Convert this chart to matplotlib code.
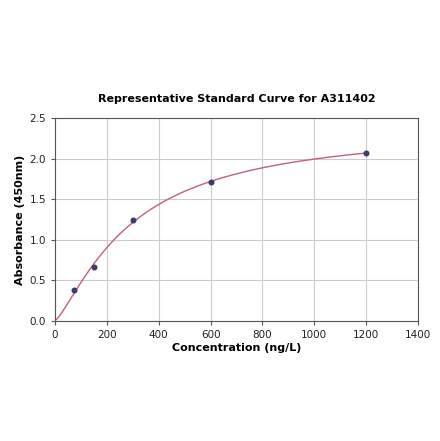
import numpy as np
import matplotlib
matplotlib.use("Agg")
import matplotlib.pyplot as plt

conc = np.array([75, 150, 300, 600, 1200], dtype=float)
absorb = np.array([0.38, 0.665, 1.24, 1.715, 2.07])
title = "Representative Standard Curve for A311402"
xlabel = "Concentration (ng/L)"
ylabel = "Absorbance (450nm)"

def f4(x, p):
    a, b, c, d = p
    return d + (a - d) / (1.0 + (np.maximum(x, 0) / c) ** b)

# simple damped Gauss-Newton fit of a 4PL model (with origin anchored)
xs = np.concatenate([[0.0], conc])
ys = np.concatenate([[0.0], absorb])
p = np.array([0.0, 1.3, 400.0, 2.5])
lam = 1e-2
for _ in range(500):
    r = ys - f4(xs, p)
    J = np.zeros((len(xs), 4))
    for i in range(4):
        dp = np.zeros(4); dp[i] = 1e-6 * max(abs(p[i]), 1e-3)
        J[:, i] = (f4(xs, p + dp) - f4(xs, p)) / dp[i]
    A = J.T @ J + lam * np.diag(np.diag(J.T @ J) + 1e-9)
    step = np.linalg.solve(A, J.T @ r)
    pn = p + step
    if pn[2] > 0 and np.sum((ys - f4(xs, pn)) ** 2) < np.sum(r ** 2):
        p = pn; lam *= 0.5
    else:
        lam *= 4

xc = np.linspace(0, 1200, 400)
yc = f4(xc, p)

fig = plt.figure(figsize=(4.4, 4.41), dpi=100)
ax = fig.add_axes([0.125, 0.272, 0.825, 0.46])
ax.plot(xc, yc, color="#c0607f", lw=1.0, zorder=2)
ax.scatter(conc, absorb, s=11, color="#383d6b", zorder=3)
ax.set_xlim(0, 1400)
ax.set_ylim(0, 2.5)
ax.set_xticks(np.arange(0, 1401, 200))
ax.set_yticks(np.arange(0, 2.51, 0.5))
ax.grid(True, color="#cccccc", lw=0.8)
ax.set_axisbelow(True)
ax.tick_params(labelsize=7.5, length=3, color="#555555", labelcolor="#222222")
for s in ax.spines.values():
    s.set_color("#555555"); s.set_linewidth(0.8)
ax.set_title(title, fontsize=8, fontweight="bold", pad=12)
ax.set_xlabel(xlabel, fontsize=8, fontweight="bold", labelpad=2)
ax.set_ylabel(ylabel, fontsize=8, fontweight="bold", labelpad=3)
fig.savefig("out.png", dpi=100)
